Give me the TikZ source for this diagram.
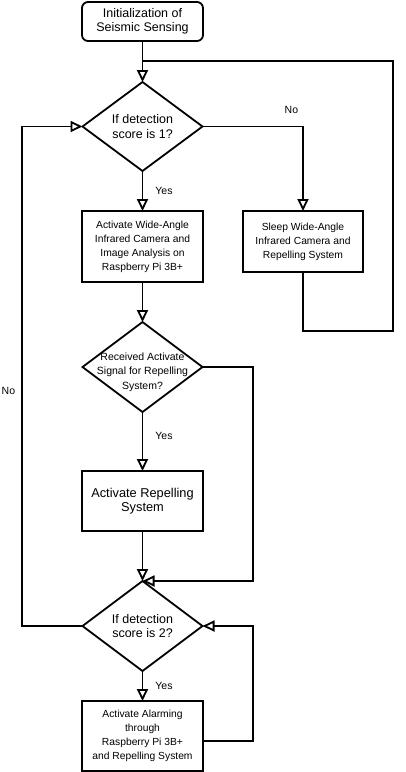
\documentclass[tikz,border=0pt]{standalone}
\usepackage{fontspec}
\setmainfont{Liberation Sans}
\usetikzlibrary{arrows.meta,positioning,shapes.geometric}
\tikzstyle{startbox} = [rectangle, draw, rounded corners=6pt, align=center,
    minimum width=121pt, minimum height=39pt, inner sep=0pt, outer sep=0pt,
    font=\fontsize{12.5pt}{14.5pt}\selectfont]
\tikzstyle{procbox} = [rectangle, draw, align=center, minimum width=121pt,
    inner sep=0pt, outer sep=0pt, font=\fontsize{10.3pt}{14pt}\selectfont]
\tikzstyle{decision} = [diamond, draw, aspect=1.35, align=center,
    minimum width=120pt, minimum height=89pt, inner sep=0pt, outer sep=0pt,
    font=\fontsize{12.5pt}{14.5pt}\selectfont]
\tikzstyle{lbl} = [inner sep=0pt, font=\fontsize{10.5pt}{12pt}\selectfont]

\begin{document}
\begin{tikzpicture}[->,>={Triangle[open,length=12pt,width=11pt]},
                    x=1pt,y=-1pt,line width=1.8pt]
  \useasboundingbox (0,0) rectangle (405,772);

  \node[startbox] (init) at (142.5,21.5) {Initialization of\\Seismic Sensing};
  \node[decision] (dec1) [below=41pt of init] {If detection\\score is 1?};
  \node[procbox, minimum height=71pt] (cam) [below=40pt of dec1]
    {Activate Wide-Angle\\Infrared Camera and\\Image Analysis on\\Raspberry Pi 3B+};
  \node[procbox, minimum height=61pt, minimum width=120pt] (sleep)
    [below right=0pt and 40pt of cam.north east]
    {Sleep Wide-Angle\\Infrared Camera and\\Repelling System};
  \node[decision, minimum height=90pt,
        label={[yshift=-5pt,align=center,font=\fontsize{10.5pt}{14.5pt}\selectfont]center:{Received Activate\\Signal for Repelling\\System?}}]
    (dec2) [below=40pt of cam] {};
  \node[procbox, minimum height=60pt, font=\fontsize{12.8pt}{14.5pt}\selectfont]
    (repel) [below=59pt of dec2] {Activate Repelling\\System};
  \node[decision, minimum height=90pt] (dec3) [below=50pt of repel] {If detection\\score is 2?};
  \node[procbox, minimum height=70pt] (alarm) [below=30pt of dec3]
    {Activate Alarming\\through\\Raspberry Pi 3B+\\and Repelling System};

  % bend points of the loops
  \coordinate (join)   at (142.5,61);
  \coordinate (loopsw) at (393,331);
  \coordinate (loopne) at (393,61);
  \coordinate (rside2) at (253,581);
  \coordinate (rside4) at (253,680);
  \coordinate (lside)  at (22,626);

  \draw (init) -- (dec1);
  \draw[-] (sleep.south) |- (loopsw) -- (loopne) -- (join);
  \draw (dec1) -- node[lbl, right=12pt] {Yes} (cam);
  \draw (dec1.east) -| node[lbl, pos=0.5, above left=12pt and 4pt] {No} (sleep.north);
  \draw (cam) -- (dec2);
  \draw (dec2) -- node[lbl, pos=0.4, right=12pt] {Yes} (repel);
  \draw (dec2.east) -| (rside2) -- (dec3.north);
  \draw (repel) -- (dec3);
  \draw (dec3) -- node[lbl, right=12pt] {Yes} (alarm);
  \draw ([yshift=-5pt]alarm.east) -| (rside4) |- (dec3.east);
  \draw (dec3.west) -- (lside) |- node[lbl, pos=0.235, left=6pt] {No} (dec1.west);
\end{tikzpicture}
\end{document}
